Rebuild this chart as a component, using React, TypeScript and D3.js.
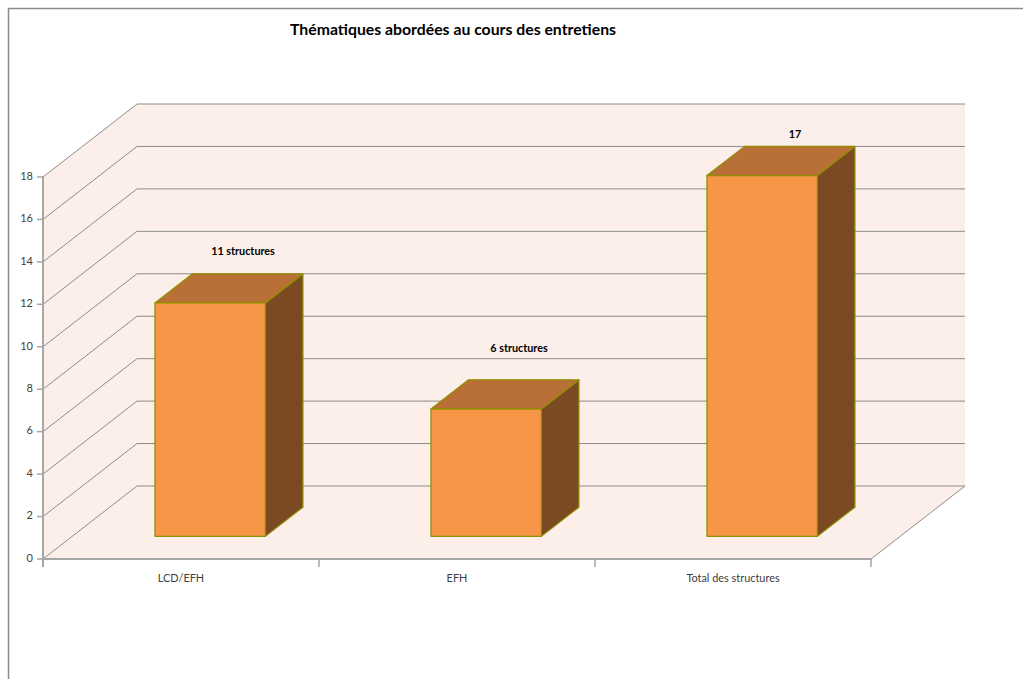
import React from "react";
import * as d3 from "d3";

// Chart data
const categories = ["LCD/EFH", "EFH", "Total des structures"];
const values = [11, 6, 17];
const valueLabels = ["11 structures", "6 structures", "17"];
const yTicks = [0, 2, 4, 6, 8, 10, 12, 14, 16, 18];
const title = "Thématiques abordées au cours des entretiens";

const W = 1023;
const H = 679;

// Oblique projection of the 3D box: full depth offset of the plot walls
const DX = 94;
const DY = -73;
// Bars sit between these depth fractions
const F0 = 0.31;
const F1 = 0.71;
const BAR_FRAC = 0.4;

const WALL = "#FCEEE9";
const GRID = "#8C8C8C";
const FRONT = "#F79646";
const TOP = "#B97036";
const SIDE = "#7B4A22";
const EDGE = "#8F8F00";
const FONT = "Lato, 'Open Sans', 'Liberation Sans', sans-serif";

export default function App() {
  const x = d3.scaleBand<string>().domain(categories).range([43, 871]).padding(0);
  const y = d3.scaleLinear().domain([0, 18]).range([559, 177]);
  const labelY = d3.scaleLinear().domain([0, 18]).range([466.5, 115.5]);

  const x0 = x.range()[0];
  const x1 = x.range()[1];
  const y0 = y(0);
  const yTop = y(18);

  const pt = (px: number, py: number, f: number) => [px + DX * f, py + DY * f];
  const poly = (pts: number[][]) => pts.map((p) => p.join(",")).join(" ");

  const bw = x.bandwidth();

  return (
    <svg
      width={W}
      height={H}
      style={{ position: "fixed", left: 0, top: 0, background: "#fff" }}
    >
      {/* outer frame */}
      <line x1={8} y1={8.5} x2={W} y2={8.5} stroke="#8a8a8a" strokeWidth={1.5} />
      <line x1={8.5} y1={8} x2={8.5} y2={H} stroke="#8a8a8a" strokeWidth={1.5} />

      <text
        x={453}
        y={31}
        textAnchor="middle"
        dominantBaseline="middle"
        fontFamily={FONT}
        fontWeight="bold"
        fontSize={14.5}
        textLength={326}
        lengthAdjust="spacingAndGlyphs"
        fill="#000"
      >
        {title}
      </text>

      {/* walls and floor */}
      <polygon
        points={poly([pt(x0, y0, 1), pt(x1, y0, 1), pt(x1, yTop, 1), pt(x0, yTop, 1)])}
        fill={WALL}
      />
      <polygon
        points={poly([pt(x0, y0, 0), pt(x0, y0, 1), pt(x0, yTop, 1), pt(x0, yTop, 0)])}
        fill={WALL}
      />
      <polygon
        points={poly([pt(x0, y0, 0), pt(x1, y0, 0), pt(x1, y0, 1), pt(x0, y0, 1)])}
        fill={WALL}
      />

      {/* gridlines: side wall diagonals and back wall horizontals */}
      {yTicks.map((t) => {
        const a = pt(x0, y(t), 0);
        const b = pt(x0, y(t), 1);
        const c = pt(x1, y(t), 1);
        return (
          <g key={t}>
            <line x1={a[0]} y1={a[1]} x2={b[0]} y2={b[1]} stroke={GRID} strokeWidth={1} />
            <line x1={b[0]} y1={b[1]} x2={c[0]} y2={c[1]} stroke={GRID} strokeWidth={1} />
          </g>
        );
      })}
      {(() => {
        const a = pt(x1, y0, 0);
        const b = pt(x1, y0, 1);
        return <line x1={a[0]} y1={a[1]} x2={b[0]} y2={b[1]} stroke={GRID} strokeWidth={1} />;
      })()}

      {/* bars */}
      {categories.map((c, i) => {
        const cx = (x(c) as number) + bw / 2;
        const l = cx - (bw * BAR_FRAC) / 2;
        const r = cx + (bw * BAR_FRAC) / 2;
        const yb = y(0);
        const yt = y(values[i]);
        const front = [pt(l, yb, F0), pt(r, yb, F0), pt(r, yt, F0), pt(l, yt, F0)];
        const top = [pt(l, yt, F0), pt(r, yt, F0), pt(r, yt, F1), pt(l, yt, F1)];
        const side = [pt(r, yb, F0), pt(r, yb, F1), pt(r, yt, F1), pt(r, yt, F0)];
        return (
          <g key={c} stroke={EDGE} strokeWidth={1.2} strokeLinejoin="round">
            <polygon points={poly(side)} fill={SIDE} />
            <polygon points={poly(top)} fill={TOP} />
            <polygon points={poly(front)} fill={FRONT} />
          </g>
        );
      })}

      {/* value labels */}
      {categories.map((c, i) => (
        <text
          key={c}
          x={(x(c) as number) + bw / 2 + 62}
          y={labelY(values[i])}
          textAnchor="middle"
          dominantBaseline="middle"
          fontFamily={FONT}
          fontWeight="bold"
          fontSize={10.8}
          fill="#000"
        >
          {valueLabels[i]}
        </text>
      ))}

      {/* value axis */}
      <line x1={x0} y1={yTop} x2={x0} y2={y0 + 8} stroke="#A6A6A6" strokeWidth={2} />
      {yTicks.map((t) => (
        <g key={t}>
          <line x1={x0 - 6} y1={y(t)} x2={x0} y2={y(t)} stroke="#A6A6A6" strokeWidth={1.5} />
          <text
            x={33}
            y={y(t)}
            textAnchor="end"
            dominantBaseline="middle"
            fontFamily={FONT}
            fontSize={11}
            fill="#404040"
          >
            {t}
          </text>
        </g>
      ))}

      {/* category axis */}
      <line x1={x0} y1={y0} x2={x1} y2={y0} stroke="#A6A6A6" strokeWidth={2} />
      {[...categories.map((c) => x(c) as number), x1].map((tx, i) => (
        <line key={i} x1={tx} y1={y0} x2={tx} y2={y0 + 8} stroke="#A6A6A6" strokeWidth={1.5} />
      ))}
      {categories.map((c) => (
        <text
          key={c}
          x={(x(c) as number) + bw / 2}
          y={579}
          textAnchor="middle"
          dominantBaseline="middle"
          fontFamily={FONT}
          fontSize={10.9}
          fill="#404040"
        >
          {c}
        </text>
      ))}
    </svg>
  );
}
